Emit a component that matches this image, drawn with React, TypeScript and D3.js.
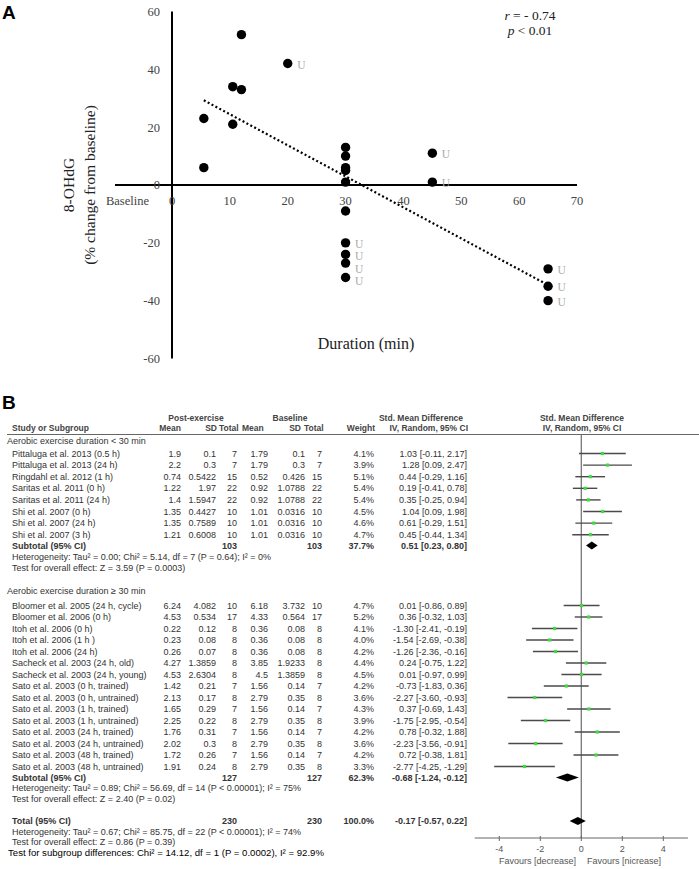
import * as d3 from 'd3'

const W = 699
const H = 869

// ---- panel A: 8-OHdG change vs exercise duration
const durations = [5.5, 5.5, 10.5, 10.5, 12, 12, 20, 30, 30, 30, 30, 30, 30, 30, 30, 30, 30, 45, 45, 65, 65, 65]
const changes = [23, 6, 34, 21, 52, 33, 42, 13, 10, 6, 5, 1, -9, -20, -24, -27, -32, 11, 1, -29, -35, -40]
const untrained = [0, 0, 0, 0, 0, 0, 1, 0, 0, 0, 0, 0, 0, 1, 1, 1, 1, 1, 1, 1, 1, 1]
const xTicksA = [0, 10, 20, 30, 40, 50, 60, 70]
const yTicksA = [60, 40, 20, 0, -20, -40, -60]
const trendDur = [5.5, 65]
const trendChange = [29.3, -34.6]

// ---- panel B: forest plot
const studies1 = [
  'Pittaluga et al. 2013 (0.5 h)',
  'Pittaluga et al. 2013 (24 h)',
  'Ringdahl et al. 2012 (1 h)',
  'Saritas et al. 2011 (0 h)',
  'Saritas et al. 2011 (24 h)',
  'Shi et al. 2007 (0 h)',
  'Shi et al. 2007 (24 h)',
  'Shi et al. 2007 (3 h)',
]
const postMean1 = [1.9, 2.2, 0.74, 1.22, 1.4, 1.35, 1.35, 1.21]
const postSD1 = [0.1, 0.3, 0.5422, 1.97, 1.5947, 0.4427, 0.7589, 0.6008]
const postN1 = [7, 7, 15, 22, 22, 10, 10, 10]
const baseMean1 = [1.79, 1.79, 0.52, 0.92, 0.92, 1.01, 1.01, 1.01]
const baseSD1 = [0.1, 0.3, 0.426, 1.0788, 1.0788, 0.0316, 0.0316, 0.0316]
const baseN1 = [7, 7, 15, 22, 22, 10, 10, 10]
const weight1 = [4.1, 3.9, 5.1, 5.4, 5.4, 4.5, 4.6, 4.7]
const smd1 = [1.03, 1.28, 0.44, 0.19, 0.35, 1.04, 0.61, 0.45]
const lo1 = [-0.11, 0.09, -0.29, -0.41, -0.25, 0.09, -0.29, -0.44]
const hi1 = [2.17, 2.47, 1.16, 0.78, 0.94, 1.98, 1.51, 1.34]

const studies2 = [
  'Bloomer et al. 2005 (24 h, cycle)',
  'Bloomer et al. 2006 (0 h)',
  'Itoh et al. 2006 (0 h)',
  'Itoh et al. 2006 (1 h )',
  'Itoh et al. 2006 (24 h)',
  'Sacheck et al. 2003 (24 h, old)',
  'Sacheck et al. 2003 (24 h, young)',
  'Sato et al. 2003 (0 h, trained)',
  'Sato et al. 2003 (0 h, untrained)',
  'Sato et al. 2003 (1 h,  trained)',
  'Sato et al. 2003 (1 h, untrained)',
  'Sato et al. 2003 (24 h, trained)',
  'Sato et al. 2003 (24 h, untrained)',
  'Sato et al. 2003 (48 h, trained)',
  'Sato et al. 2003 (48 h, untrained)',
]
const postMean2 = [6.24, 4.53, 0.22, 0.23, 0.26, 4.27, 4.53, 1.42, 2.13, 1.65, 2.25, 1.76, 2.02, 1.72, 1.91]
const postSD2 = [4.082, 0.534, 0.12, 0.08, 0.07, 1.3859, 2.6304, 0.21, 0.17, 0.29, 0.22, 0.31, 0.3, 0.26, 0.24]
const postN2 = [10, 17, 8, 8, 8, 8, 8, 7, 8, 7, 8, 7, 8, 7, 8]
const baseMean2 = [6.18, 4.33, 0.36, 0.36, 0.36, 3.85, 4.5, 1.56, 2.79, 1.56, 2.79, 1.56, 2.79, 1.56, 2.79]
const baseSD2 = [3.732, 0.564, 0.08, 0.08, 0.08, 1.9233, 1.3859, 0.14, 0.35, 0.14, 0.35, 0.14, 0.35, 0.14, 0.35]
const baseN2 = [10, 17, 8, 8, 8, 8, 8, 7, 8, 7, 8, 7, 8, 7, 8]
const weight2 = [4.7, 5.2, 4.1, 4.0, 4.2, 4.4, 4.5, 4.2, 3.6, 4.3, 3.9, 4.2, 3.6, 4.2, 3.3]
const smd2 = [0.01, 0.36, -1.3, -1.54, -1.26, 0.24, 0.01, -0.73, -2.27, 0.37, -1.75, 0.78, -2.23, 0.72, -2.77]
const lo2 = [-0.86, -0.32, -2.41, -2.69, -2.36, -0.75, -0.97, -1.83, -3.6, -0.69, -2.95, -0.32, -3.56, -0.38, -4.25]
const hi2 = [0.89, 1.03, -0.19, -0.38, -0.16, 1.22, 0.99, 0.36, -0.93, 1.43, -0.54, 1.88, -0.91, 1.81, -1.29]

const subtotalN = [103, 127, 230]
const subtotalWeight = [37.7, 62.3, 100.0]
const subtotalSmd = [0.51, -0.68, -0.17]
const subtotalLo = [0.23, -1.24, -0.57]
const subtotalHi = [0.8, -0.12, 0.22]
const heterogeneity = [
  'Heterogeneity: Tau\u00b2 = 0.00; Chi\u00b2 = 5.14, df = 7 (P = 0.64); I\u00b2 = 0%',
  'Heterogeneity: Tau\u00b2 = 0.89; Chi\u00b2 = 56.69, df = 14 (P < 0.00001); I\u00b2 = 75%',
  'Heterogeneity: Tau\u00b2 = 0.67; Chi\u00b2 = 85.75, df = 22 (P < 0.00001); I\u00b2 = 74%',
]
const overallEffect = [
  'Test for overall effect: Z = 3.59 (P = 0.0003)',
  'Test for overall effect: Z = 2.40 (P = 0.02)',
  'Test for overall effect: Z = 0.86 (P = 0.39)',
]
const forestTicks = [-4, -2, 0, 2, 4]

const SERIF = '"Liberation Serif", "Times New Roman", serif'
const SANS = '"Liberation Sans", Arial, sans-serif'
const TXT = '#333'

const ci = (m: number, l: number, h: number) => `${m.toFixed(2)} [${l.toFixed(2)}, ${h.toFixed(2)}]`

// column right edges
const COL = { postMean: 181, postSD: 216, postN: 237, baseMean: 268, baseSD: 305, baseN: 322, weight: 374, ci: 467 }

function Row({ y, label, vals, bold = false }: { y: number; label: string; vals: (string | number)[]; bold?: boolean }) {
  const xs = [COL.postMean, COL.postSD, COL.postN, COL.baseMean, COL.baseSD, COL.baseN, COL.weight, COL.ci]
  return (
    <g fontWeight={bold ? 'bold' : 'normal'}>
      <text x={12} y={y} dy="0.35em">{label}</text>
      {vals.map((v, i) =>
        v === '' ? null : (
          <text key={i} x={xs[i]} y={y} dy="0.35em" textAnchor="end">{v}</text>
        ),
      )}
    </g>
  )
}

// push "U" labels apart inside each duration group so they do not collide
function labelYs(ys: number[]) {
  const out = ys.slice()
  const groups = d3.group(d3.range(ys.length).filter((i) => untrained[i]), (i) => durations[i])
  for (const idx of groups.values()) {
    const sorted = idx.slice().sort((a, b) => ys[a] - ys[b])
    for (let k = 1; k < sorted.length; k++) {
      const prev = out[sorted[k - 1]]
      if (out[sorted[k]] - prev < 12.5) out[sorted[k]] = prev + 12.5
    }
  }
  return out
}

export default function App() {
  // panel A scales
  const xA = d3.scaleLinear().domain([0, 70]).range([172, 577])
  const yA = d3.scaleLinear().domain([-60, 60]).range([358.5, 11.5])
  const trend = d3.line<number>().x((d) => xA(d)).y((_d, i) => yA(trendChange[i]))(trendDur) ?? ''
  const uY = labelYs(changes.map((c) => yA(c) + 1))

  // panel B
  const xF = d3.scaleLinear().domain([-4, 4]).range([499.3, 663.3])
  const rows1 = studies1.map((_s, i) => 453.5 + i * 11.6)
  const sub1 = 545.5
  const rows2 = studies2.map((_s, i) => 605.5 + i * 11.5)
  const sub2 = 777.5
  const totY = 821
  const axisY = 838
  const subY = [sub1, sub2, totY]

  const diamond = (k: number) => {
    const y = subY[k]
    const pts: [number, number][] = [
      [xF(subtotalLo[k]), y],
      [xF(subtotalSmd[k]), y - 4],
      [xF(subtotalHi[k]), y],
      [xF(subtotalSmd[k]), y + 4],
    ]
    return pts.map((p) => p.join(',')).join(' ')
  }

  const study = (y: number, m: number, l: number, h: number, key: string) => (
    <g key={key}>
      <line x1={xF(l)} x2={xF(h)} y1={y} y2={y} stroke="#4a4a4a" strokeWidth={1.4} />
      <rect x={xF(m) - 1.6} y={y - 1.6} width={3.2} height={3.2} fill="#3ddc3d" />
    </g>
  )

  return (
    <svg width={W} height={H} style={{ position: 'absolute', left: 0, top: 0, background: '#fff' }}>
      <rect width={W} height={H} fill="#fff" />
      {/* ---------- A ---------- */}
      <text x={2} y={19} fontFamily={SANS} fontWeight="bold" fontSize={19}>A</text>
      <line x1={115} x2={xA(70)} y1={yA(0)} y2={yA(0)} stroke="#000" strokeWidth={2} />
      <line x1={xA(0)} x2={xA(0)} y1={yA(60)} y2={yA(-60)} stroke="#000" strokeWidth={2} />
      <g fontFamily={SERIF} fontSize={12.5} fill="#444">
        {xTicksA.map((t) => (
          <text key={t} x={xA(t)} y={yA(0) + 16} dy="0.35em" textAnchor="middle">{t}</text>
        ))}
        {yTicksA.map((t) => (
          <text key={t} x={160} y={yA(t)} dy="0.35em" textAnchor="end">{t}</text>
        ))}
        <text x={149} y={yA(0) + 16} dy="0.35em" textAnchor="end">Baseline</text>
      </g>
      <path d={trend} fill="none" stroke="#000" strokeWidth={2.2} strokeDasharray="2,2.4" />
      {durations.map((d, i) => (
        <g key={i}>
          <circle cx={xA(d)} cy={yA(changes[i])} r={4.7} fill="#000" />
          {untrained[i] ? (
            <text x={xA(d) + 9.5} y={uY[i]} dy="0.35em" fontFamily={SERIF} fontSize={11.5} fill="#aaa">U</text>
          ) : null}
        </g>
      ))}
      <g fontFamily={SERIF} fontSize={15.5} fill="#222" textAnchor="middle">
        <text transform={`translate(69,${yA(0)}) rotate(-90)`} dy="0.35em">8-OHdG</text>
        <text transform={`translate(90,${yA(0)}) rotate(-90)`} dy="0.35em">(% change from baseline)</text>
        <text x={366} y={343} dy="0.35em" fontSize={16}>Duration (min)</text>
      </g>
      <g fontFamily={SERIF} fontSize={13.5} fill="#222" textAnchor="middle">
        <text x={530} y={15} dy="0.35em"><tspan fontStyle="italic">r</tspan> = - 0.74</text>
        <text x={530} y={30} dy="0.35em"><tspan fontStyle="italic">p</tspan> &lt; 0.01</text>
      </g>

      {/* ---------- B ---------- */}
      <text x={2} y={409} fontFamily={SANS} fontWeight="bold" fontSize={19}>B</text>
      <g fontFamily={SANS} fontSize={9} fill={TXT}>
        <g fontWeight="bold" fill="#444" fontSize={8.5}>
          <text x={196} y={418} dy="0.35em" textAnchor="middle">Post-exercise</text>
          <text x={290} y={418} dy="0.35em" textAnchor="middle">Baseline</text>
          <text x={421} y={418} dy="0.35em" textAnchor="middle">Std. Mean Difference</text>
          <text x={582} y={418} dy="0.35em" textAnchor="middle">Std. Mean Difference</text>
          <text x={12} y={428} dy="0.35em">Study or Subgroup</text>
          <text x={COL.postMean} y={428} dy="0.35em" textAnchor="end">Mean</text>
          <text x={217} y={428} dy="0.35em" textAnchor="end">SD</text>
          <text x={219} y={428} dy="0.35em">Total</text>
          <text x={242} y={428} dy="0.35em">Mean</text>
          <text x={301} y={428} dy="0.35em" textAnchor="end">SD</text>
          <text x={304} y={428} dy="0.35em">Total</text>
          <text x={COL.weight + 1} y={428} dy="0.35em" textAnchor="end">Weight</text>
          <text x={COL.ci + 1} y={428} dy="0.35em" textAnchor="end">IV, Random, 95% CI</text>
          <text x={582} y={428} dy="0.35em" textAnchor="middle">IV, Random, 95% CI</text>
        </g>
        <line x1={7} x2={W} y1={434.5} y2={434.5} stroke="#666" strokeWidth={1} />

        <text x={7} y={441} dy="0.35em">Aerobic exercise duration &lt; 30 min</text>
        {studies1.map((s, i) => (
          <Row key={s} y={rows1[i]} label={s}
            vals={[postMean1[i], postSD1[i], postN1[i], baseMean1[i], baseSD1[i], baseN1[i], `${weight1[i].toFixed(1)}%`, ci(smd1[i], lo1[i], hi1[i])]} />
        ))}
        <Row y={sub1} label="Subtotal (95% CI)" bold
          vals={['', '', subtotalN[0], '', '', subtotalN[0], `${subtotalWeight[0].toFixed(1)}%`, ci(subtotalSmd[0], subtotalLo[0], subtotalHi[0])]} />
        <text x={12} y={sub1 + 11} dy="0.35em">{heterogeneity[0]}</text>
        <text x={12} y={sub1 + 22} dy="0.35em">{overallEffect[0]}</text>

        <text x={7} y={590.5} dy="0.35em">Aerobic exercise duration &#8805; 30 min</text>
        {studies2.map((s, i) => (
          <Row key={s} y={rows2[i]} label={s}
            vals={[postMean2[i], postSD2[i], postN2[i], baseMean2[i], baseSD2[i], baseN2[i], `${weight2[i].toFixed(1)}%`, ci(smd2[i], lo2[i], hi2[i])]} />
        ))}
        <Row y={sub2} label="Subtotal (95% CI)" bold
          vals={['', '', subtotalN[1], '', '', subtotalN[1], `${subtotalWeight[1].toFixed(1)}%`, ci(subtotalSmd[1], subtotalLo[1], subtotalHi[1])]} />
        <text x={12} y={sub2 + 10.5} dy="0.35em">{heterogeneity[1]}</text>
        <text x={12} y={sub2 + 21} dy="0.35em">{overallEffect[1]}</text>

        <Row y={totY} label="Total (95% CI)" bold
          vals={['', '', subtotalN[2], '', '', subtotalN[2], `${subtotalWeight[2].toFixed(1)}%`, ci(subtotalSmd[2], subtotalLo[2], subtotalHi[2])]} />
        <text x={12} y={totY + 10.5} dy="0.35em">{heterogeneity[2]}</text>
        <text x={12} y={totY + 21} dy="0.35em">{overallEffect[2]}</text>
        <text x={8} y={totY + 32} dy="0.35em" fontSize={9.6} fill="#000">
          Test for subgroup differences: Chi{'\u00b2'} = 14.12, df = 1 (P = 0.0002), I{'\u00b2'} =  92.9%
        </text>

        {/* forest */}
        <line x1={xF(0)} x2={xF(0)} y1={434.5} y2={axisY} stroke="#777" strokeWidth={1.3} />
        {studies1.map((s, i) => study(rows1[i], smd1[i], lo1[i], hi1[i], s))}
        {studies2.map((s, i) => study(rows2[i], smd2[i], lo2[i], hi2[i], s))}
        {[0, 1, 2].map((k) => (
          <polygon key={k} points={diamond(k)} fill="#000" />
        ))}
        <line x1={xF(-5.2)} x2={xF(5.2)} y1={axisY} y2={axisY} stroke="#666" strokeWidth={1} />
        {forestTicks.map((t) => (
          <g key={t}>
            <line x1={xF(t)} x2={xF(t)} y1={axisY - 2} y2={axisY + 3} stroke="#666" />
            <text x={xF(t)} y={axisY + 11} dy="0.35em" textAnchor="middle" fill="#555">{t}</text>
          </g>
        ))}
        <text x={576} y={axisY + 23} dy="0.35em" textAnchor="end" fill="#555">Favours [decrease]</text>
        <text x={587} y={axisY + 23} dy="0.35em" fill="#555">Favours [nicrease]</text>
      </g>
    </svg>
  )
}
